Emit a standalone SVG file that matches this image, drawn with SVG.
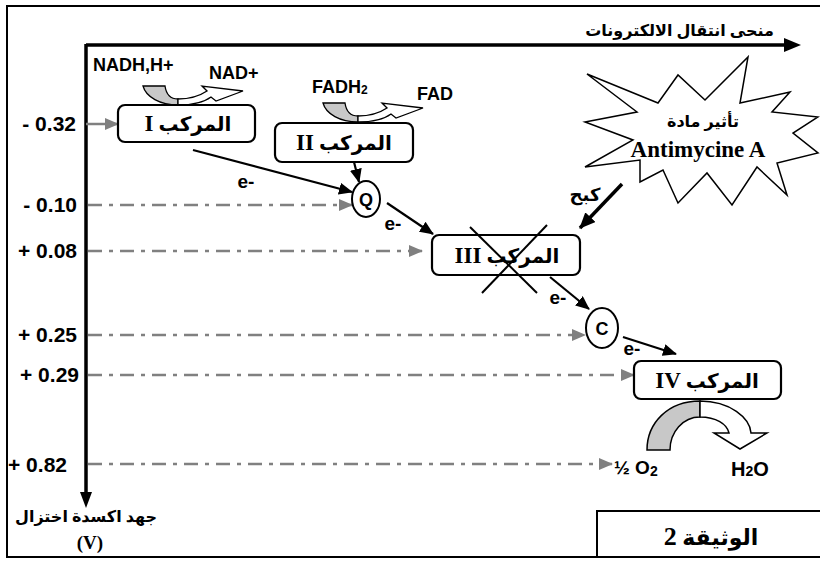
<svg xmlns="http://www.w3.org/2000/svg" width="820" height="563" viewBox="0 0 820 563">
<defs>
<style>
.lbl{font-family:"Liberation Sans",Arial,sans-serif;font-weight:bold;fill:#000}
.ar{font-family:"Liberation Serif","DejaVu Sans",serif;font-weight:bold;fill:#000}
.num{font-size:23px}
.box{fill:#fff;stroke:#000;stroke-width:2.2}
.con{stroke:#000;stroke-width:2.2;fill:none}
.dash{stroke:#808080;stroke-width:2.5;fill:none;stroke-dasharray:14 7 4 7}
</style>
<marker id="ab" viewBox="0 0 14 12" refX="13" refY="6" markerWidth="14" markerHeight="12" markerUnits="userSpaceOnUse" orient="auto"><path d="M0,0 L14,6 L0,12 z" fill="#000"/></marker>
<marker id="ag" viewBox="0 0 14 12" refX="13" refY="6" markerWidth="14" markerHeight="12" markerUnits="userSpaceOnUse" orient="auto"><path d="M0,0 L14,6 L0,12 z" fill="#808080"/></marker>
<marker id="abig" viewBox="0 0 16 14" refX="15" refY="7" markerWidth="16" markerHeight="14" markerUnits="userSpaceOnUse" orient="auto"><path d="M0,0 L16,7 L0,14 z" fill="#000"/></marker>
</defs>
<rect x="0" y="0" width="820" height="563" fill="#fff"/>
<rect x="7" y="6" width="816" height="551" fill="none" stroke="#000" stroke-width="2"/>

<g id="axes">
<line x1="86" y1="45" x2="786" y2="45" stroke="#000" stroke-width="3.5"/>
<path d="M784,38 L801,45 L784,52 z" fill="#000"/>
<line x1="86" y1="44" x2="86" y2="494" stroke="#000" stroke-width="3.5"/>
<path d="M80,492 L86,508 L92,492 z" fill="#000"/>
<text class="ar" x="774" y="36" font-size="16" direction="rtl" text-anchor="start">منحى انتقال الالكترونات</text>
<text class="ar" x="86" y="522" font-size="16" text-anchor="middle">جهد اكسدة اختزال</text>
<text class="ar" x="90" y="549" font-size="19" text-anchor="middle">(V)</text>
</g>

<g id="yvalues" class="lbl" font-size="21" text-anchor="end">
<text x="76" y="131">- 0.32</text>
<text x="77" y="212">- 0.10</text>
<text x="77" y="258">+ 0.08</text>
<text x="77" y="342">+ 0.25</text>
<text x="79" y="382">+ 0.29</text>
<text x="67" y="472">+ 0.82</text>
</g>

<g id="connectors">
<line x1="86" y1="124" x2="118" y2="124" stroke="#808080" stroke-width="2.5" marker-end="url(#ag)"/>
<line class="dash" x1="88" y1="205" x2="352" y2="205" marker-end="url(#ag)"/>
<line class="dash" x1="88" y1="251" x2="422" y2="251" marker-end="url(#ag)"/>
<line class="dash" x1="88" y1="335" x2="585" y2="335" marker-end="url(#ag)"/>
<line class="dash" x1="88" y1="375" x2="634" y2="375" marker-end="url(#ag)"/>
<line class="dash" x1="88" y1="464" x2="612" y2="464" marker-end="url(#ag)"/>
<line class="con" x1="193" y1="150" x2="352" y2="192" marker-end="url(#ab)"/>
<line class="con" x1="354" y1="162" x2="359" y2="182" marker-end="url(#ab)"/>
<line class="con" x1="387" y1="203" x2="433" y2="234" marker-end="url(#ab)"/>
<line class="con" x1="550" y1="277" x2="589" y2="309" marker-end="url(#ab)"/>
<line class="con" x1="623" y1="337" x2="676" y2="354" marker-end="url(#ab)"/>
<line x1="622" y1="184" x2="580" y2="228" stroke="#000" stroke-width="3.5" marker-end="url(#abig)"/>
<text class="lbl" x="246" y="188" font-size="19" text-anchor="middle">e-</text>
<text class="lbl" x="393" y="230" font-size="19" text-anchor="middle">e-</text>
<text class="lbl" x="558" y="304" font-size="19" text-anchor="middle">e-</text>
<text class="lbl" x="632" y="355" font-size="19" text-anchor="middle">e-</text>
<text class="ar" x="585" y="201" font-size="18" text-anchor="middle">كبح</text>
</g>

<g id="nadh">
<text class="lbl" x="93" y="71" font-size="18">NADH,H+</text>
<text class="lbl" x="209" y="79" font-size="18">NAD+</text>
<path d="M143,86 C146,97 160,105 178,105 L178,99 C170,99 166,93 165,86 Z" fill="#c8c8c8" stroke="#000" stroke-width="1.3"/>
<path d="M178,99 C192,99 201,95 207,91 L202,86 L243,91 L216,101 L211,97 C203,103 192,105 178,105 Z" fill="#fff" stroke="#000" stroke-width="1.3"/>
</g>

<g id="fadh">
<text class="lbl" x="312" y="93" font-size="18">FADH<tspan font-size="12" dy="1">2</tspan></text>
<text class="lbl" x="417" y="100" font-size="18">FAD</text>
<g transform="translate(180,17)">
<path d="M143,86 C146,97 160,105 178,105 L178,99 C170,99 166,93 165,86 Z" fill="#c8c8c8" stroke="#000" stroke-width="1.3"/>
<path d="M178,99 C192,99 201,95 207,91 L202,86 L243,91 L216,101 L211,97 C203,103 192,105 178,105 Z" fill="#fff" stroke="#000" stroke-width="1.3"/>
</g>
</g>

<g id="complex1">
<rect class="box" x="118" y="105" width="137" height="37" rx="7"/>
<text class="ar" x="188" y="131" font-size="20" direction="rtl" text-anchor="middle">المركب <tspan class="num">I</tspan></text>
</g>

<g id="complex2">
<rect class="box" x="275" y="123" width="138" height="39" rx="7"/>
<text class="ar" x="344" y="150" font-size="20" direction="rtl" text-anchor="middle">المركب <tspan class="num">II</tspan></text>
</g>

<g id="q">
<ellipse cx="366" cy="199" rx="14" ry="18" fill="#fff" stroke="#000" stroke-width="2"/>
<text class="lbl" x="366" y="206" font-size="18" text-anchor="middle">Q</text>
</g>

<g id="complex3">
<rect class="box" x="432" y="235" width="148" height="40" rx="7"/>
<text class="ar" x="507" y="263" font-size="20" direction="rtl" text-anchor="middle">المركب <tspan class="num">III</tspan></text>
<line x1="470" y1="227" x2="537" y2="293" stroke="#000" stroke-width="2"/>
<line x1="547" y1="225" x2="482" y2="293" stroke="#000" stroke-width="2"/>
</g>

<g id="c">
<ellipse cx="602" cy="328" rx="16" ry="20" fill="#fff" stroke="#000" stroke-width="2"/>
<text class="lbl" x="602" y="335" font-size="18" text-anchor="middle">C</text>
</g>

<g id="complex4">
<rect class="box" x="634" y="361" width="147" height="38" rx="7"/>
<text class="ar" x="707" y="388" font-size="20" direction="rtl" text-anchor="middle">المركب <tspan class="num">IV</tspan></text>
</g>

<g id="o2">
<path d="M700,401 C668,401 647,423 647,450 L670,450 C670,432 683,417 700,417 Z" fill="#c8c8c8" stroke="#000" stroke-width="1.5"/>
<path d="M700,401 C730,401 750,418 751,433 L767,433 L740,449 L714,433 L729,433 C727,424 716,417 700,417 Z" fill="#fff" stroke="#000" stroke-width="1.5"/>
<text class="lbl" x="614" y="474" font-size="19">½ O<tspan font-size="14" dy="2">2</tspan></text>
<text class="lbl" x="731" y="476" font-size="20">H<tspan font-size="14">2</tspan>O</text>
</g>

<g id="antimycine">
<polygon points="587,74 658,103 678,75 705,100 748,57 740,103 790,92 772,112 818,117 793,133 818,153 777,163 787,195 757,167 732,205 707,173 678,203 663,170 640,182 640,160 585,167 633,140 585,122 637,112" fill="#fff" stroke="#000" stroke-width="1.5" stroke-linejoin="miter"/>
<text class="ar" x="703" y="127" font-size="16" text-anchor="middle">تأثير مادة</text>
<text class="ar" x="698" y="157" font-size="23" text-anchor="middle">Antimycine A</text>
</g>

<g id="doc">
<rect x="597" y="511" width="226" height="46" fill="#fff" stroke="#000" stroke-width="2"/>
<text class="ar" x="711" y="545" font-size="22" direction="rtl" text-anchor="middle">الوثيقة <tspan font-size="26">2</tspan></text>
</g>
</svg>
